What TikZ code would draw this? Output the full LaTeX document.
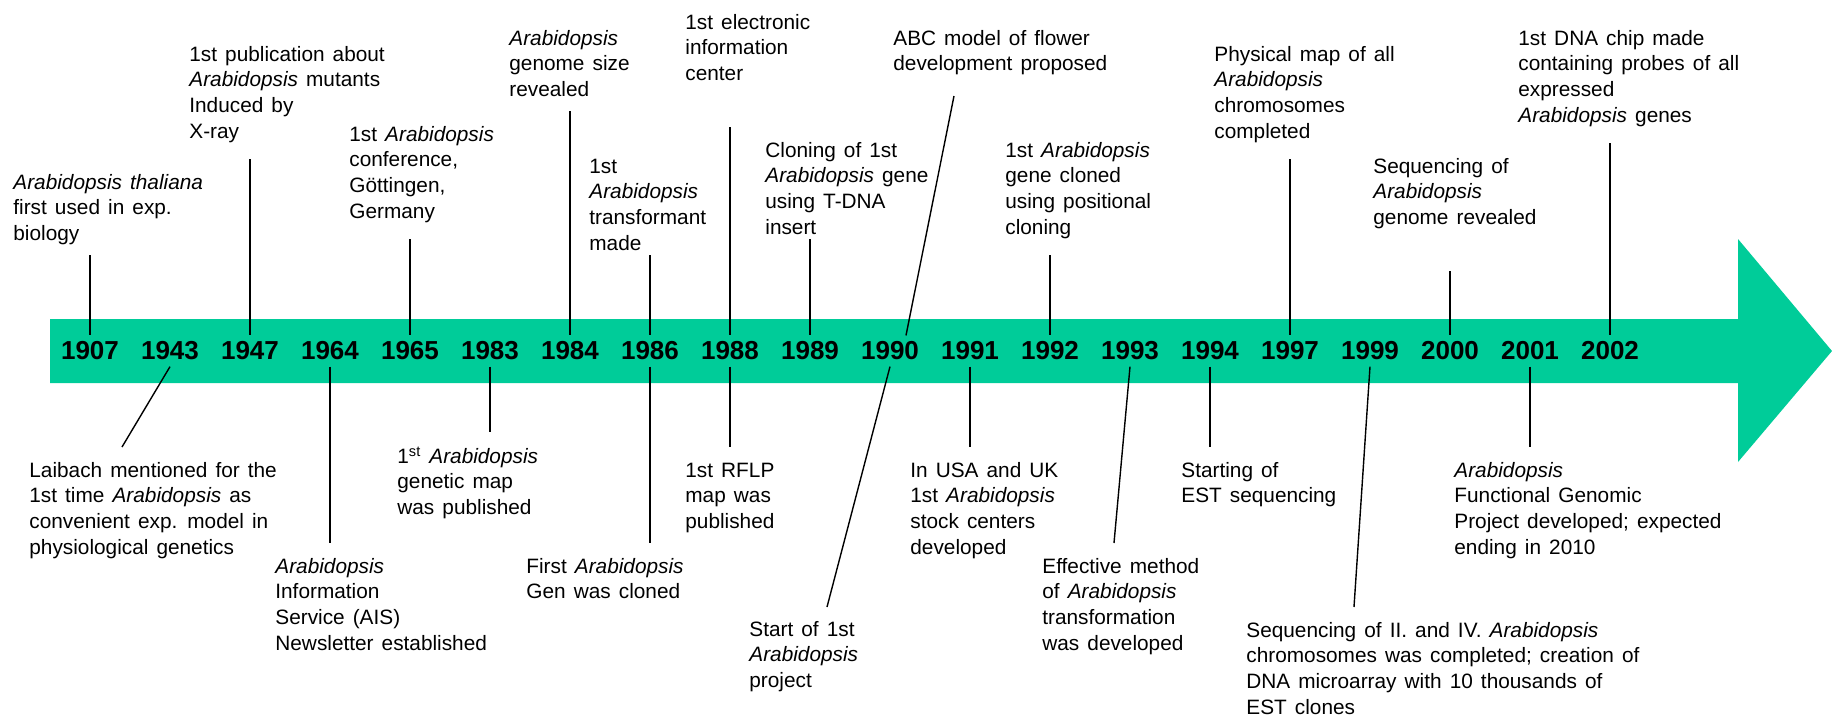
\documentclass[tikz,border=0pt]{standalone}
\usepackage{fontspec}
\setmainfont{Liberation Sans}[WordSpace=1.4]
\usepackage{tikz}
\definecolor{bandgreen}{HTML}{00CC99}

\begin{document}
\begin{tikzpicture}[
    x=0.5pt, y=-0.5pt,
    year/.style={font=\fontsize{13pt}{15pt}\selectfont\bfseries, inner sep=3pt},
    event/.style={anchor=north west, inner sep=0pt, align=left, font=\fontsize{10.4pt}{12.8pt}\selectfont},
    leader/.style={draw=black, line width=1pt},
    slant/.style={draw=black, line width=0.7pt},
]
\useasboundingbox (0,0) rectangle (1832,725);

% timeline arrow
\fill[bandgreen] (50,319) -- (1738,319) -- (1738,239) -- (1832,351)
    -- (1738,462) -- (1738,383) -- (50,383) -- cycle;

% years
\foreach \yr [count=\i from 0] in {1907,1943,1947,1964,1965,1983,1984,1986,1988,1989,1990,1991,1992,1993,1994,1997,1999,2000,2001,2002}
    \node[year] (y\yr) at (90+80*\i, 351) {\yr};

% events above the arrow
\node[event] (ev1907) at (13,171) {\strut\textit{Arabidopsis thaliana}\\first used in exp.\\biology};
\node[event] (ev1947) at (189,43) {\strut 1st publication about\\\textit{Arabidopsis} mutants\\Induced by\\X-ray};
\node[event] (ev1965) at (349,123) {\strut 1st \textit{Arabidopsis}\\conference,\\Göttingen,\\Germany};
\node[event] (ev1984) at (509,27) {\strut\textit{Arabidopsis}\\genome size\\revealed};
\node[event] (ev1986a) at (589,155) {\strut 1st\\\textit{Arabidopsis}\\transformant\\made};
\node[event] (ev1988a) at (685,11) {\strut 1st electronic\\information\\center};
\node[event] (ev1989) at (765,139) {\strut Cloning of 1st\\\textit{Arabidopsis} gene\\using T-DNA\\insert};
\node[event] (ev1990a) at (893,27) {\strut ABC model of flower\\development proposed};
\node[event] (ev1992) at (1005,139) {\strut 1st \textit{Arabidopsis}\\gene cloned\\using positional\\cloning};
\node[event] (ev1997) at (1214,43) {\strut Physical map of all\\\textit{Arabidopsis}\\chromosomes\\completed};
\node[event] (ev2000) at (1373,155) {\strut Sequencing of\\\textit{Arabidopsis}\\genome revealed};
\node[event] (ev2002) at (1518,27) {\strut 1st DNA chip made\\containing probes of all\\expressed\\\textit{Arabidopsis} genes};

% events below the arrow
\node[event] (ev1943) at (29,459) {\strut Laibach mentioned for the\\1st time \textit{Arabidopsis} as\\convenient exp. model in\\physiological genetics};
\node[event] (ev1964) at (275,555) {\strut\textit{Arabidopsis}\\Information\\Service (AIS)\\Newsletter established};
\node[event] (ev1983) at (397,445) {\strut 1\textsuperscript{st} \textit{Arabidopsis}\\genetic map\\was published};
\node[event] (ev1986b) at (526,555) {\strut First \textit{Arabidopsis}\\Gen was cloned};
\node[event] (ev1988b) at (685,459) {\strut 1st RFLP\\map was\\published};
\node[event] (ev1990b) at (749,618) {\strut Start of 1st\\\textit{Arabidopsis}\\project};
\node[event] (ev1991) at (910,459) {\strut In USA and UK\\1st \textit{Arabidopsis}\\stock centers\\developed};
\node[event] (ev1993) at (1042,555) {\strut Effective method\\of \textit{Arabidopsis}\\transformation\\was developed};
\node[event] (ev1994) at (1181,459) {\strut Starting of\\EST sequencing};
\node[event] (ev1999) at (1246,619) {\strut Sequencing of II. and IV. \textit{Arabidopsis}\\chromosomes was completed; creation of\\DNA microarray with 10 thousands of\\EST clones};
\node[event] (ev2001) at (1454,459) {\strut\textit{Arabidopsis}\\Functional Genomic\\Project developed; expected\\ending in 2010};

% straight leaders
\foreach \yr/\ty in {1907/255,1947/159,1965/239,1984/111,1986/255,1988/127,1989/239,1992/255,1997/159,2000/271,2002/143} {
    \coordinate (t\yr) at (y\yr.north |- 0,\ty);
    \draw[leader] (t\yr) -- (y\yr.north);
}
\foreach \yr/\by in {1964/543,1983/432,1986/543,1988/447,1991/447,1994/447,2001/447} {
    \coordinate (b\yr) at (y\yr.south |- 0,\by);
    \draw[leader] (y\yr.south) -- (b\yr);
}

% slanted leaders
\coordinate (t1990) at (954,96);
\coordinate (b1943) at (122,447);
\coordinate (b1990) at (827,607);
\coordinate (b1993) at (1114,543);
\coordinate (b1999) at (1354,607);
\draw[slant] (t1990) -- ([xshift=8pt]y1990.north);
\draw[slant] (y1943.south) -- (b1943);
\draw[slant] (y1990.south) -- (b1990);
\draw[slant] (y1993.south) -- (b1993);
\draw[slant] (y1999.south) -- (b1999);
\end{tikzpicture}
\end{document}
